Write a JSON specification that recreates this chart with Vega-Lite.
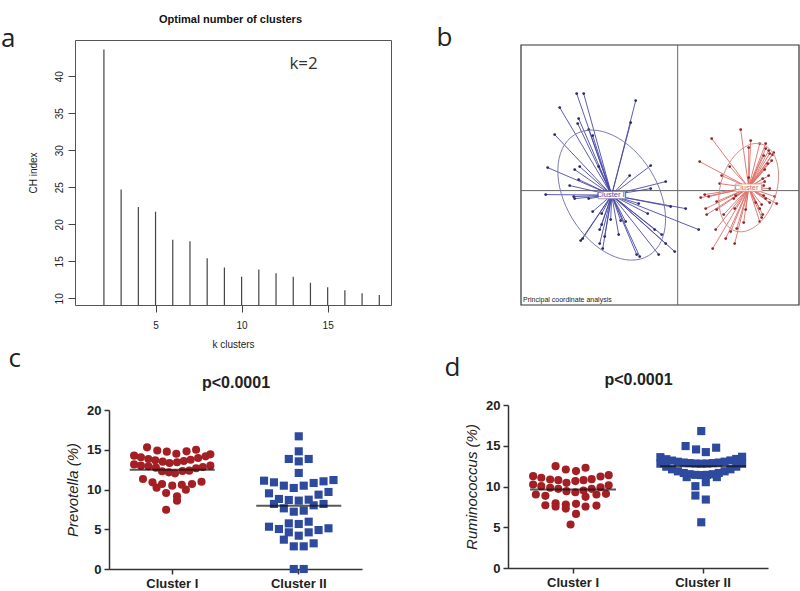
{
  "$schema": "https://vega.github.io/schema/vega-lite/v6.json",
  "padding": {"left": 0, "top": 14, "right": 0, "bottom": 0},
  "config": {
    "view": {"stroke": null},
    "title": {"font": "Open Sans", "fontSize": 26, "fontWeight": "normal", "anchor": "start", "color": "#222"},
    "axis": {"grid": false}
  },
  "datasets": {
    "single": [{}],
    "chindex": [
      {"k": 2, "ch": 43.6}, {"k": 3, "ch": 24.7}, {"k": 4, "ch": 22.35}, {"k": 5, "ch": 21.7},
      {"k": 6, "ch": 17.9}, {"k": 7, "ch": 17.7}, {"k": 8, "ch": 15.4}, {"k": 9, "ch": 14.15},
      {"k": 10, "ch": 12.9}, {"k": 11, "ch": 13.9}, {"k": 12, "ch": 13.4}, {"k": 13, "ch": 12.9},
      {"k": 14, "ch": 12.1}, {"k": 15, "ch": 11.5}, {"k": 16, "ch": 11.1}, {"k": 17, "ch": 10.7}, {"k": 18, "ch": 10.45}
    ],
    "centroids": [
      {"cluster": "Cluster II", "cx": -0.66, "cy": -0.045},
      {"cluster": "Cluster I", "cx": 0.71, "cy": 0.03}
    ],
    "pcoa": [
      {"cluster": "Cluster II", "x": -1.01, "y": 0.97}, {"cluster": "Cluster II", "x": -0.94, "y": 0.97},
      {"cluster": "Cluster II", "x": -0.42, "y": 0.90}, {"cluster": "Cluster II", "x": -1.18, "y": 0.83},
      {"cluster": "Cluster II", "x": -0.99, "y": 0.72}, {"cluster": "Cluster II", "x": -0.47, "y": 0.68},
      {"cluster": "Cluster II", "x": -1.00, "y": 0.67}, {"cluster": "Cluster II", "x": -0.89, "y": 0.61},
      {"cluster": "Cluster II", "x": -0.85, "y": 0.55}, {"cluster": "Cluster II", "x": -1.23, "y": 0.56},
      {"cluster": "Cluster II", "x": -1.30, "y": 0.23}, {"cluster": "Cluster II", "x": -0.98, "y": 0.24},
      {"cluster": "Cluster II", "x": -1.03, "y": 0.21}, {"cluster": "Cluster II", "x": -0.79, "y": 0.24},
      {"cluster": "Cluster II", "x": -0.27, "y": 0.25}, {"cluster": "Cluster II", "x": -0.48, "y": 0.15},
      {"cluster": "Cluster II", "x": -0.99, "y": 0.11}, {"cluster": "Cluster II", "x": -1.08, "y": 0.05},
      {"cluster": "Cluster II", "x": -0.12, "y": 0.09}, {"cluster": "Cluster II", "x": -0.27, "y": 0.02},
      {"cluster": "Cluster II", "x": -1.32, "y": -0.04}, {"cluster": "Cluster II", "x": -1.04, "y": -0.06},
      {"cluster": "Cluster II", "x": -1.03, "y": -0.08}, {"cluster": "Cluster II", "x": -0.89, "y": -0.08},
      {"cluster": "Cluster II", "x": -0.39, "y": -0.13}, {"cluster": "Cluster II", "x": -0.07, "y": -0.16},
      {"cluster": "Cluster II", "x": 0.08, "y": -0.18}, {"cluster": "Cluster II", "x": -0.30, "y": -0.23},
      {"cluster": "Cluster II", "x": -0.85, "y": -0.21}, {"cluster": "Cluster II", "x": -0.76, "y": -0.23},
      {"cluster": "Cluster II", "x": -0.67, "y": -0.29}, {"cluster": "Cluster II", "x": -0.57, "y": -0.30},
      {"cluster": "Cluster II", "x": -0.52, "y": -0.31}, {"cluster": "Cluster II", "x": -0.76, "y": -0.34},
      {"cluster": "Cluster II", "x": -0.78, "y": -0.39}, {"cluster": "Cluster II", "x": -0.23, "y": -0.39},
      {"cluster": "Cluster II", "x": -0.59, "y": -0.44}, {"cluster": "Cluster II", "x": -0.95, "y": -0.48},
      {"cluster": "Cluster II", "x": -0.97, "y": -0.50}, {"cluster": "Cluster II", "x": -0.73, "y": -0.46},
      {"cluster": "Cluster II", "x": -0.78, "y": -0.53}, {"cluster": "Cluster II", "x": -0.16, "y": -0.44},
      {"cluster": "Cluster II", "x": -0.12, "y": -0.53}, {"cluster": "Cluster II", "x": -0.75, "y": -0.58},
      {"cluster": "Cluster II", "x": -0.03, "y": -0.61}, {"cluster": "Cluster II", "x": -0.41, "y": -0.64},
      {"cluster": "Cluster II", "x": -0.38, "y": -0.66}, {"cluster": "Cluster II", "x": -0.19, "y": -0.64},
      {"cluster": "Cluster II", "x": 0.21, "y": -0.39},
      {"cluster": "Cluster I", "x": 0.63, "y": 0.61}, {"cluster": "Cluster I", "x": 0.34, "y": 0.52},
      {"cluster": "Cluster I", "x": 0.73, "y": 0.50}, {"cluster": "Cluster I", "x": 0.82, "y": 0.47},
      {"cluster": "Cluster I", "x": 0.88, "y": 0.47}, {"cluster": "Cluster I", "x": 0.88, "y": 0.42},
      {"cluster": "Cluster I", "x": 0.91, "y": 0.40}, {"cluster": "Cluster I", "x": 0.96, "y": 0.38},
      {"cluster": "Cluster I", "x": 0.92, "y": 0.37}, {"cluster": "Cluster I", "x": 0.71, "y": 0.43},
      {"cluster": "Cluster I", "x": 0.86, "y": 0.35}, {"cluster": "Cluster I", "x": 0.95, "y": 0.36},
      {"cluster": "Cluster I", "x": 0.94, "y": 0.30}, {"cluster": "Cluster I", "x": 0.90, "y": 0.27},
      {"cluster": "Cluster I", "x": 0.22, "y": 0.29}, {"cluster": "Cluster I", "x": 0.52, "y": 0.24},
      {"cluster": "Cluster I", "x": 0.87, "y": 0.21}, {"cluster": "Cluster I", "x": 0.44, "y": 0.15},
      {"cluster": "Cluster I", "x": 0.91, "y": 0.15}, {"cluster": "Cluster I", "x": 0.71, "y": 0.13},
      {"cluster": "Cluster I", "x": 0.42, "y": 0.07}, {"cluster": "Cluster I", "x": 0.85, "y": 0.12},
      {"cluster": "Cluster I", "x": 0.87, "y": 0.09}, {"cluster": "Cluster I", "x": 0.86, "y": 0.05},
      {"cluster": "Cluster I", "x": 0.92, "y": 0.02}, {"cluster": "Cluster I", "x": 0.23, "y": -0.07},
      {"cluster": "Cluster I", "x": 0.27, "y": -0.04}, {"cluster": "Cluster I", "x": 0.31, "y": -0.06},
      {"cluster": "Cluster I", "x": 0.39, "y": -0.11}, {"cluster": "Cluster I", "x": 0.56, "y": -0.08},
      {"cluster": "Cluster I", "x": 0.58, "y": -0.05}, {"cluster": "Cluster I", "x": 0.86, "y": -0.05},
      {"cluster": "Cluster I", "x": 0.88, "y": -0.08}, {"cluster": "Cluster I", "x": 0.97, "y": -0.06},
      {"cluster": "Cluster I", "x": 0.99, "y": -0.13}, {"cluster": "Cluster I", "x": 0.92, "y": -0.12},
      {"cluster": "Cluster I", "x": 0.28, "y": -0.18}, {"cluster": "Cluster I", "x": 0.39, "y": -0.19},
      {"cluster": "Cluster I", "x": 0.78, "y": -0.12}, {"cluster": "Cluster I", "x": 0.84, "y": -0.14},
      {"cluster": "Cluster I", "x": 0.46, "y": -0.24}, {"cluster": "Cluster I", "x": 0.57, "y": -0.18},
      {"cluster": "Cluster I", "x": 0.68, "y": -0.19}, {"cluster": "Cluster I", "x": 0.82, "y": -0.18},
      {"cluster": "Cluster I", "x": 0.85, "y": -0.24}, {"cluster": "Cluster I", "x": 0.84, "y": -0.27},
      {"cluster": "Cluster I", "x": 0.29, "y": -0.24}, {"cluster": "Cluster I", "x": 0.38, "y": -0.39},
      {"cluster": "Cluster I", "x": 0.53, "y": -0.41}, {"cluster": "Cluster I", "x": 0.59, "y": -0.38},
      {"cluster": "Cluster I", "x": 0.48, "y": -0.48}, {"cluster": "Cluster I", "x": 0.57, "y": -0.53},
      {"cluster": "Cluster I", "x": 0.35, "y": -0.58}, {"cluster": "Cluster I", "x": 0.66, "y": -0.32},
      {"cluster": "Cluster I", "x": 0.82, "y": -0.31}
    ],
    "prevotella": [
      {"cluster": "Cluster I", "slot": -3.7, "value": 15.3}, {"cluster": "Cluster I", "slot": -2.2, "value": 14.9},
      {"cluster": "Cluster I", "slot": -0.8, "value": 14.76}, {"cluster": "Cluster I", "slot": 0.6, "value": 14.5},
      {"cluster": "Cluster I", "slot": 2.1, "value": 14.8}, {"cluster": "Cluster I", "slot": 3.5, "value": 15.0},
      {"cluster": "Cluster I", "slot": -5.6, "value": 14.26}, {"cluster": "Cluster I", "slot": -4.6, "value": 14.05},
      {"cluster": "Cluster I", "slot": -3.5, "value": 13.84}, {"cluster": "Cluster I", "slot": -2.5, "value": 13.67},
      {"cluster": "Cluster I", "slot": -1.4, "value": 13.5}, {"cluster": "Cluster I", "slot": -0.4, "value": 13.33},
      {"cluster": "Cluster I", "slot": 0.7, "value": 13.42}, {"cluster": "Cluster I", "slot": 1.7, "value": 13.59},
      {"cluster": "Cluster I", "slot": 2.7, "value": 13.75}, {"cluster": "Cluster I", "slot": 3.8, "value": 13.96},
      {"cluster": "Cluster I", "slot": 4.9, "value": 14.17}, {"cluster": "Cluster I", "slot": 5.6, "value": 14.42},
      {"cluster": "Cluster I", "slot": -5.6, "value": 13.16}, {"cluster": "Cluster I", "slot": -4.6, "value": 13.0},
      {"cluster": "Cluster I", "slot": -3.5, "value": 12.92}, {"cluster": "Cluster I", "slot": -2.4, "value": 12.75},
      {"cluster": "Cluster I", "slot": -1.5, "value": 12.29}, {"cluster": "Cluster I", "slot": -0.5, "value": 12.16},
      {"cluster": "Cluster I", "slot": 0.4, "value": 12.03}, {"cluster": "Cluster I", "slot": 1.5, "value": 12.33},
      {"cluster": "Cluster I", "slot": 2.5, "value": 12.37}, {"cluster": "Cluster I", "slot": 3.5, "value": 12.67},
      {"cluster": "Cluster I", "slot": 4.5, "value": 12.83}, {"cluster": "Cluster I", "slot": 5.6, "value": 13.0},
      {"cluster": "Cluster I", "slot": -4.3, "value": 11.32}, {"cluster": "Cluster I", "slot": -2.9, "value": 10.9},
      {"cluster": "Cluster I", "slot": -2.3, "value": 10.23}, {"cluster": "Cluster I", "slot": -1.5, "value": 10.69},
      {"cluster": "Cluster I", "slot": 0.0, "value": 10.48}, {"cluster": "Cluster I", "slot": 1.4, "value": 10.6},
      {"cluster": "Cluster I", "slot": 2.0, "value": 9.98}, {"cluster": "Cluster I", "slot": 2.9, "value": 10.69},
      {"cluster": "Cluster I", "slot": 4.3, "value": 10.98}, {"cluster": "Cluster I", "slot": -0.9, "value": 9.56},
      {"cluster": "Cluster I", "slot": 0.7, "value": 9.14}, {"cluster": "Cluster I", "slot": 0.7, "value": 8.6},
      {"cluster": "Cluster I", "slot": -0.9, "value": 7.46},
      {"cluster": "Cluster II", "slot": 0, "value": 16.69}, {"cluster": "Cluster II", "slot": 0, "value": 14.8},
      {"cluster": "Cluster II", "slot": -1.46, "value": 13.84}, {"cluster": "Cluster II", "slot": 0, "value": 13.54},
      {"cluster": "Cluster II", "slot": 1.46, "value": 13.84}, {"cluster": "Cluster II", "slot": 0, "value": 12.08},
      {"cluster": "Cluster II", "slot": -5.1, "value": 11.11}, {"cluster": "Cluster II", "slot": -3.64, "value": 10.9},
      {"cluster": "Cluster II", "slot": -2.19, "value": 10.48}, {"cluster": "Cluster II", "slot": -0.73, "value": 10.19},
      {"cluster": "Cluster II", "slot": 0.73, "value": 10.48}, {"cluster": "Cluster II", "slot": 2.19, "value": 10.82},
      {"cluster": "Cluster II", "slot": 3.64, "value": 11.03}, {"cluster": "Cluster II", "slot": 5.1, "value": 11.19},
      {"cluster": "Cluster II", "slot": -4.37, "value": 9.52}, {"cluster": "Cluster II", "slot": -2.91, "value": 8.81},
      {"cluster": "Cluster II", "slot": -1.46, "value": 8.68}, {"cluster": "Cluster II", "slot": 0, "value": 8.6},
      {"cluster": "Cluster II", "slot": 1.46, "value": 8.72}, {"cluster": "Cluster II", "slot": 2.91, "value": 9.35},
      {"cluster": "Cluster II", "slot": 4.37, "value": 9.69}, {"cluster": "Cluster II", "slot": -3.64, "value": 8.18},
      {"cluster": "Cluster II", "slot": -2.19, "value": 7.63}, {"cluster": "Cluster II", "slot": -0.73, "value": 7.21},
      {"cluster": "Cluster II", "slot": 0.73, "value": 7.34}, {"cluster": "Cluster II", "slot": 2.19, "value": 8.01},
      {"cluster": "Cluster II", "slot": 3.64, "value": 8.18}, {"cluster": "Cluster II", "slot": -1.46, "value": 5.74},
      {"cluster": "Cluster II", "slot": 0, "value": 5.66}, {"cluster": "Cluster II", "slot": 1.46, "value": 5.95},
      {"cluster": "Cluster II", "slot": -4.37, "value": 5.32}, {"cluster": "Cluster II", "slot": -2.91, "value": 5.03},
      {"cluster": "Cluster II", "slot": 2.91, "value": 4.9}, {"cluster": "Cluster II", "slot": 4.37, "value": 5.12},
      {"cluster": "Cluster II", "slot": -1.46, "value": 4.61}, {"cluster": "Cluster II", "slot": 1.46, "value": 4.61},
      {"cluster": "Cluster II", "slot": 0, "value": 4.19}, {"cluster": "Cluster II", "slot": -2.19, "value": 3.69},
      {"cluster": "Cluster II", "slot": -0.73, "value": 2.85}, {"cluster": "Cluster II", "slot": 0.73, "value": 2.85},
      {"cluster": "Cluster II", "slot": 2.19, "value": 3.23}, {"cluster": "Cluster II", "slot": -0.73, "value": 0},
      {"cluster": "Cluster II", "slot": 0.73, "value": 0}
    ],
    "prevotellaMedian": [
      {"cluster": "Cluster I", "median": 12.49}, {"cluster": "Cluster II", "median": 7.96}
    ],
    "ruminococcus": [
      {"cluster": "Cluster I", "slot": -2.3, "value": 12.5}, {"cluster": "Cluster I", "slot": -0.8, "value": 12.09},
      {"cluster": "Cluster I", "slot": 0.7, "value": 11.89}, {"cluster": "Cluster I", "slot": 2.1, "value": 12.3},
      {"cluster": "Cluster I", "slot": -5.6, "value": 11.27}, {"cluster": "Cluster I", "slot": -4.4, "value": 11.07},
      {"cluster": "Cluster I", "slot": -3.1, "value": 10.86}, {"cluster": "Cluster I", "slot": -1.9, "value": 10.78},
      {"cluster": "Cluster I", "slot": -0.7, "value": 10.45}, {"cluster": "Cluster I", "slot": 0.6, "value": 10.66},
      {"cluster": "Cluster I", "slot": 1.8, "value": 10.78}, {"cluster": "Cluster I", "slot": 3.0, "value": 10.9},
      {"cluster": "Cluster I", "slot": 4.3, "value": 11.23}, {"cluster": "Cluster I", "slot": 5.5, "value": 11.39},
      {"cluster": "Cluster I", "slot": -5.6, "value": 10.25}, {"cluster": "Cluster I", "slot": -4.4, "value": 10.04},
      {"cluster": "Cluster I", "slot": -3.1, "value": 9.84}, {"cluster": "Cluster I", "slot": -1.9, "value": 9.71},
      {"cluster": "Cluster I", "slot": -0.7, "value": 9.43}, {"cluster": "Cluster I", "slot": 0.6, "value": 9.3},
      {"cluster": "Cluster I", "slot": 1.8, "value": 9.5}, {"cluster": "Cluster I", "slot": 3.0, "value": 9.71},
      {"cluster": "Cluster I", "slot": 4.3, "value": 9.91}, {"cluster": "Cluster I", "slot": 5.5, "value": 10.16},
      {"cluster": "Cluster I", "slot": -5.2, "value": 9.02}, {"cluster": "Cluster I", "slot": -3.8, "value": 8.85},
      {"cluster": "Cluster I", "slot": 2.1, "value": 8.73}, {"cluster": "Cluster I", "slot": 3.7, "value": 9.02},
      {"cluster": "Cluster I", "slot": 5.1, "value": 9.1}, {"cluster": "Cluster I", "slot": -3.8, "value": 7.7},
      {"cluster": "Cluster I", "slot": -2.3, "value": 7.95}, {"cluster": "Cluster I", "slot": -2.3, "value": 7.54},
      {"cluster": "Cluster I", "slot": -0.8, "value": 7.79}, {"cluster": "Cluster I", "slot": -0.8, "value": 7.29},
      {"cluster": "Cluster I", "slot": 0.7, "value": 7.87}, {"cluster": "Cluster I", "slot": 2.1, "value": 7.54},
      {"cluster": "Cluster I", "slot": 3.7, "value": 7.66}, {"cluster": "Cluster I", "slot": 0.7, "value": 6.64},
      {"cluster": "Cluster I", "slot": -0.1, "value": 5.33},
      {"cluster": "Cluster II", "slot": 0, "value": 16.8}, {"cluster": "Cluster II", "slot": -2.3, "value": 14.96},
      {"cluster": "Cluster II", "slot": -0.76, "value": 14.55}, {"cluster": "Cluster II", "slot": 0.67, "value": 14.22},
      {"cluster": "Cluster II", "slot": 2.19, "value": 14.76}, {"cluster": "Cluster II", "slot": -0.86, "value": 10.04},
      {"cluster": "Cluster II", "slot": 0.67, "value": 10.53}, {"cluster": "Cluster II", "slot": -0.86, "value": 8.89},
      {"cluster": "Cluster II", "slot": 0.67, "value": 8.4}, {"cluster": "Cluster II", "slot": 0, "value": 5.61},
      {"cluster": "Cluster II", "slot": -6, "value": 13.6}, {"cluster": "Cluster II", "slot": -5.14, "value": 13.35},
      {"cluster": "Cluster II", "slot": -4.29, "value": 13.18}, {"cluster": "Cluster II", "slot": -3.43, "value": 13.04},
      {"cluster": "Cluster II", "slot": -2.57, "value": 12.94}, {"cluster": "Cluster II", "slot": -1.71, "value": 12.87},
      {"cluster": "Cluster II", "slot": -0.86, "value": 12.82}, {"cluster": "Cluster II", "slot": 0, "value": 12.8},
      {"cluster": "Cluster II", "slot": 0.86, "value": 12.82}, {"cluster": "Cluster II", "slot": 1.71, "value": 12.87},
      {"cluster": "Cluster II", "slot": 2.57, "value": 12.94}, {"cluster": "Cluster II", "slot": 3.43, "value": 13.05},
      {"cluster": "Cluster II", "slot": 4.29, "value": 13.2}, {"cluster": "Cluster II", "slot": 5.14, "value": 13.38},
      {"cluster": "Cluster II", "slot": 6, "value": 13.65}, {"cluster": "Cluster II", "slot": -6, "value": 12.8},
      {"cluster": "Cluster II", "slot": -5.14, "value": 12.43}, {"cluster": "Cluster II", "slot": -4.29, "value": 12.11},
      {"cluster": "Cluster II", "slot": -3.43, "value": 11.86}, {"cluster": "Cluster II", "slot": -2.57, "value": 11.66},
      {"cluster": "Cluster II", "slot": -1.71, "value": 11.51}, {"cluster": "Cluster II", "slot": -0.86, "value": 11.43},
      {"cluster": "Cluster II", "slot": 0, "value": 11.4}, {"cluster": "Cluster II", "slot": 0.86, "value": 11.43},
      {"cluster": "Cluster II", "slot": 1.71, "value": 11.51}, {"cluster": "Cluster II", "slot": 2.57, "value": 11.66},
      {"cluster": "Cluster II", "slot": 3.43, "value": 11.86}, {"cluster": "Cluster II", "slot": 4.29, "value": 12.11},
      {"cluster": "Cluster II", "slot": 5.14, "value": 12.43}, {"cluster": "Cluster II", "slot": 6, "value": 12.8},
      {"cluster": "Cluster II", "slot": -2.14, "value": 11.15}, {"cluster": "Cluster II", "slot": 2.29, "value": 11.15}
    ],
    "ruminococcusMedian": [
      {"cluster": "Cluster I", "median": 9.63}, {"cluster": "Cluster II", "median": 12.5}
    ]
  },
  "columns": 1,
  "align": "none",
  "spacing": -4,
  "concat": [
    {
      "title": {"text": "Optimal number of clusters", "font": "Liberation Sans", "fontSize": 11, "fontWeight": "bold", "anchor": "start", "align": "center", "dx": 230, "offset": 0, "color": "#111"},
      "columns": 2,
      "align": "none",
      "spacing": 44,
      "concat": [
        {
          "width": 316, "height": 265,
          "view": {"stroke": "#555", "strokeWidth": 1},
          "title": {"text": "a", "dx": -27, "offset": -12},
          "layer": [
            {
              "data": {"name": "chindex"},
              "mark": {"type": "rule", "color": "#444", "strokeWidth": 1.2, "clip": true},
              "encoding": {
                "x": {"field": "k", "type": "quantitative", "scale": {"domain": [0.32, 18.68], "nice": false, "zero": false},
                  "axis": {"values": [5, 10, 15], "title": "k clusters", "domain": false, "tickSize": 7, "tickColor": "#444", "labelFont": "Liberation Sans", "labelFontSize": 10, "labelColor": "#222", "labelPadding": 8, "titleFont": "Liberation Sans", "titleFontSize": 10, "titleFontWeight": "normal", "titleColor": "#222", "titlePadding": 9}},
                "y": {"field": "ch", "type": "quantitative", "scale": {"domain": [9.1, 44.9], "nice": false, "zero": false},
                  "axis": {"values": [10, 15, 20, 25, 30, 35, 40], "title": "CH index", "domain": false, "tickSize": 7, "tickColor": "#444", "labelAngle": -90, "labelAlign": "center", "labelBaseline": "bottom", "labelFont": "Liberation Sans", "labelFontSize": 10, "labelColor": "#222", "labelPadding": 4, "titleFont": "Liberation Sans", "titleFontSize": 10, "titleFontWeight": "normal", "titleColor": "#222", "titlePadding": 16}},
                "y2": {"datum": 0}
              }
            },
            {
              "data": {"name": "single"},
              "mark": {"type": "text", "font": "Open Sans", "fontSize": 17, "fontWeight": "normal", "color": "#333"},
              "encoding": {"x": {"datum": 13.6, "type": "quantitative"}, "y": {"datum": 41.7, "type": "quantitative"}, "text": {"value": "k=2"}}
            }
          ]
        },
        {
          "width": 278, "height": 265,
          "title": {"text": "b", "dx": -84, "offset": -11},
          "layer": [
            {
              "data": {"name": "single"},
              "mark": {"type": "rect", "filled": false, "stroke": "#333", "strokeWidth": 1.2},
              "encoding": {
                "x": {"datum": -1.567, "type": "quantitative", "scale": {"domain": [-1.567, 1.213], "nice": false, "zero": false}, "axis": null},
                "x2": {"datum": 1.213},
                "y": {"datum": -1.144, "type": "quantitative", "scale": {"domain": [-1.144, 1.456], "nice": false, "zero": false, "range": [265, 5]}, "axis": null},
                "y2": {"datum": 1.456}
              }
            },
            {
              "data": {"name": "single"},
              "mark": {"type": "rule", "color": "#666", "strokeWidth": 1},
              "encoding": {"x": {"datum": 0, "type": "quantitative", "axis": null}, "y": {"datum": -1.144, "type": "quantitative", "axis": null}, "y2": {"datum": 1.456}}
            },
            {
              "data": {"name": "single"},
              "mark": {"type": "rule", "color": "#666", "strokeWidth": 1},
              "encoding": {"y": {"datum": 0, "type": "quantitative", "axis": null}}
            },
            {
              "data": {"name": "pcoa"},
              "transform": [{"lookup": "cluster", "from": {"data": {"name": "centroids"}, "key": "cluster", "fields": ["cx", "cy"]}}],
              "mark": {"type": "rule", "strokeWidth": 0.9},
              "encoding": {
                "x": {"field": "x", "type": "quantitative", "axis": null},
                "y": {"field": "y", "type": "quantitative", "axis": null},
                "x2": {"field": "cx"}, "y2": {"field": "cy"},
                "color": {"condition": {"test": "datum.cluster === 'Cluster I'", "value": "#dc6e68"}, "value": "#4a4aa6"}
              }
            },
            {
              "data": {"name": "pcoa"},
              "mark": {"type": "circle", "size": 8, "opacity": 1},
              "encoding": {
                "x": {"field": "x", "type": "quantitative", "axis": null},
                "y": {"field": "y", "type": "quantitative", "axis": null},
                "color": {"condition": {"test": "datum.cluster === 'Cluster I'", "value": "#8e2a2a"}, "value": "#2b2b6a"}
              }
            },
            {
              "data": {"name": "centroids"},
              "transform": [{"filter": "datum.cluster === 'Cluster II'"}],
              "mark": {"type": "point", "filled": false, "color": "#7a7ab4", "strokeWidth": 1, "opacity": 1, "size": 20107,
                "shape": "M0.5225,0.8526 C0.2179,1.0393 -0.263,0.809 -0.5516,0.3381 C-0.8402,-0.1328 -0.8271,-0.6659 -0.5225,-0.8526 C-0.2179,-1.0393 0.263,-0.809 0.5516,-0.3381 C0.8402,0.1328 0.8271,0.6659 0.5225,0.8526 Z"},
              "encoding": {"x": {"field": "cx", "type": "quantitative", "axis": null}, "y": {"field": "cy", "type": "quantitative", "axis": null}}
            },
            {
              "data": {"name": "centroids"},
              "transform": [{"filter": "datum.cluster === 'Cluster I'"}],
              "mark": {"type": "point", "filled": false, "color": "#d98b88", "strokeWidth": 1, "opacity": 1, "size": 8245,
                "shape": "M-0.2907,0.9568 C-0.6168,0.8577 -0.7509,0.349 -0.5903,-0.1794 C-0.4297,-0.7078 -0.0354,-1.0559 0.2907,-0.9568 C0.6168,-0.8577 0.7509,-0.349 0.5903,0.1794 C0.4297,0.7078 0.0354,1.0559 -0.2907,0.9568 Z"},
              "encoding": {"x": {"field": "cx", "type": "quantitative", "axis": null}, "y": {"field": "cy", "type": "quantitative", "axis": null}}
            },
            {
              "data": {"name": "centroids"},
              "mark": {"type": "point", "filled": true, "fill": "white", "strokeWidth": 0.8, "opacity": 1, "size": 730,
                "shape": "M-1,-0.27 L1,-0.27 L1,0.27 L-1,0.27 Z"},
              "encoding": {
                "x": {"field": "cx", "type": "quantitative", "axis": null}, "y": {"field": "cy", "type": "quantitative", "axis": null},
                "stroke": {"condition": {"test": "datum.cluster === 'Cluster I'", "value": "#d98b88"}, "value": "#7a7ab4"}
              }
            },
            {
              "data": {"name": "centroids"},
              "mark": {"type": "text", "font": "Liberation Sans", "fontSize": 7.5, "baseline": "middle", "align": "center"},
              "encoding": {
                "x": {"field": "cx", "type": "quantitative", "axis": null}, "y": {"field": "cy", "type": "quantitative", "axis": null},
                "text": {"field": "cluster"},
                "color": {"condition": {"test": "datum.cluster === 'Cluster I'", "value": "#d06a64"}, "value": "#4a4aa6"}
              }
            },
            {
              "data": {"name": "single"},
              "mark": {"type": "text", "font": "Liberation Sans", "fontSize": 7, "align": "left", "baseline": "bottom", "color": "#222", "dx": 2, "dy": -2},
              "encoding": {"x": {"datum": -1.567, "type": "quantitative", "axis": null}, "y": {"datum": -1.144, "type": "quantitative", "axis": null}, "text": {"value": "Principal coordinate analysis"}}
            }
          ]
        }
      ]
    },
    {
      "columns": 2,
      "align": "none",
      "spacing": 82,
      "concat": [
        {
          "width": 287, "height": 164,
          "title": {"text": "c", "dx": -57, "offset": 2},
          "layer": [
            {
              "data": {"name": "prevotella"},
              "mark": {"type": "point", "filled": true, "opacity": 1, "size": 66, "strokeWidth": 0},
              "encoding": {
                "x": {"field": "cluster", "type": "nominal", "sort": ["Cluster I", "Cluster II"], "scale": {"paddingInner": 0, "paddingOuter": 0, "range": [34, 287]},
                  "axis": {"title": null, "labelAngle": 0, "labelFont": "Liberation Sans", "labelFontSize": 13, "labelFontWeight": "bold", "labelColor": "#222", "labelPadding": 3, "domainColor": "#333", "domainWidth": 1.5, "tickColor": "#333", "tickWidth": 1.5, "tickSize": 5}},
                "xOffset": {"field": "slot", "type": "quantitative", "scale": {"domain": [-9, 9]}},
                "y": {"field": "value", "type": "quantitative", "scale": {"domain": [0, 20], "nice": false, "range": [164, 5]},
                  "axis": {"offset": -34, "values": [0, 5, 10, 15, 20], "title": "Prevotella (%)", "titleFont": "Liberation Sans", "titleFontSize": 15, "titleFontWeight": "normal", "titleFontStyle": "italic", "titleColor": "#222", "titlePadding": 6, "labelFont": "Liberation Sans", "labelFontSize": 13, "labelFontWeight": "bold", "labelColor": "#222", "labelPadding": 3, "domainColor": "#333", "domainWidth": 1.5, "tickColor": "#333", "tickWidth": 1.5, "tickSize": 5}},
                "color": {"condition": {"test": "datum.cluster === 'Cluster I'", "value": "#a31f24"}, "value": "#2e4a9e"},
                "shape": {"condition": {"test": "datum.cluster === 'Cluster I'", "value": "circle"}, "value": "square"}
              }
            },
            {
              "data": {"name": "prevotellaMedian"},
              "mark": {"type": "tick", "color": "#111", "thickness": 2, "size": 85},
              "encoding": {
                "x": {"field": "cluster", "type": "nominal", "sort": ["Cluster I", "Cluster II"],
                  "axis": {"orient": "top", "title": "p<0.0001", "labels": false, "ticks": false, "domain": false, "titleFont": "Liberation Sans", "titleFontSize": 16, "titleFontWeight": "bold", "titleColor": "#222", "titlePadding": 15}},
                "y": {"field": "median", "type": "quantitative",
                  "axis": {"offset": -34, "values": [0, 5, 10, 15, 20], "title": "Prevotella (%)", "titleFont": "Liberation Sans", "titleFontSize": 15, "titleFontWeight": "normal", "titleFontStyle": "italic", "titleColor": "#222", "titlePadding": 6, "labelFont": "Liberation Sans", "labelFontSize": 13, "labelFontWeight": "bold", "labelColor": "#222", "labelPadding": 3, "domainColor": "#333", "domainWidth": 1.5, "tickColor": "#333", "tickWidth": 1.5, "tickSize": 5}}
              }
            }
          ],
          "resolve": {"axis": {"x": "independent"}}
        },
        {
          "width": 260, "height": 163,
          "title": {"text": "d", "dx": -20, "offset": -10},
          "layer": [
            {
              "data": {"name": "ruminococcus"},
              "mark": {"type": "point", "filled": true, "opacity": 1, "size": 66, "strokeWidth": 0},
              "encoding": {
                "x": {"field": "cluster", "type": "nominal", "sort": ["Cluster I", "Cluster II"], "scale": {"paddingInner": 0, "paddingOuter": 0},
                  "axis": {"title": null, "labelAngle": 0, "labelFont": "Liberation Sans", "labelFontSize": 13, "labelFontWeight": "bold", "labelColor": "#222", "labelPadding": 3, "domainColor": "#333", "domainWidth": 1.5, "tickColor": "#333", "tickWidth": 1.5, "tickSize": 5}},
                "xOffset": {"field": "slot", "type": "quantitative", "scale": {"domain": [-9.29, 9.29]}},
                "y": {"field": "value", "type": "quantitative", "scale": {"domain": [0, 20], "nice": false},
                  "axis": {"values": [0, 5, 10, 15, 20], "title": "Ruminococcus (%)", "titleFont": "Liberation Sans", "titleFontSize": 15, "titleFontWeight": "normal", "titleFontStyle": "italic", "titleColor": "#222", "titlePadding": 6, "labelFont": "Liberation Sans", "labelFontSize": 13, "labelFontWeight": "bold", "labelColor": "#222", "labelPadding": 3, "domainColor": "#333", "domainWidth": 1.5, "tickColor": "#333", "tickWidth": 1.5, "tickSize": 5}},
                "color": {"condition": {"test": "datum.cluster === 'Cluster I'", "value": "#a31f24"}, "value": "#2e4a9e"},
                "shape": {"condition": {"test": "datum.cluster === 'Cluster I'", "value": "circle"}, "value": "square"}
              }
            },
            {
              "data": {"name": "ruminococcusMedian"},
              "mark": {"type": "tick", "color": "#111", "thickness": 2, "size": 86},
              "encoding": {
                "x": {"field": "cluster", "type": "nominal", "sort": ["Cluster I", "Cluster II"],
                  "axis": {"orient": "top", "title": "p<0.0001", "labels": false, "ticks": false, "domain": false, "titleFont": "Liberation Sans", "titleFontSize": 16, "titleFontWeight": "bold", "titleColor": "#222", "titlePadding": 18}},
                "y": {"field": "median", "type": "quantitative",
                  "axis": {"values": [0, 5, 10, 15, 20], "title": "Ruminococcus (%)", "titleFont": "Liberation Sans", "titleFontSize": 15, "titleFontWeight": "normal", "titleFontStyle": "italic", "titleColor": "#222", "titlePadding": 6, "labelFont": "Liberation Sans", "labelFontSize": 13, "labelFontWeight": "bold", "labelColor": "#222", "labelPadding": 3, "domainColor": "#333", "domainWidth": 1.5, "tickColor": "#333", "tickWidth": 1.5, "tickSize": 5}}
              }
            }
          ],
          "resolve": {"axis": {"x": "independent"}}
        }
      ]
    }
  ]
}
